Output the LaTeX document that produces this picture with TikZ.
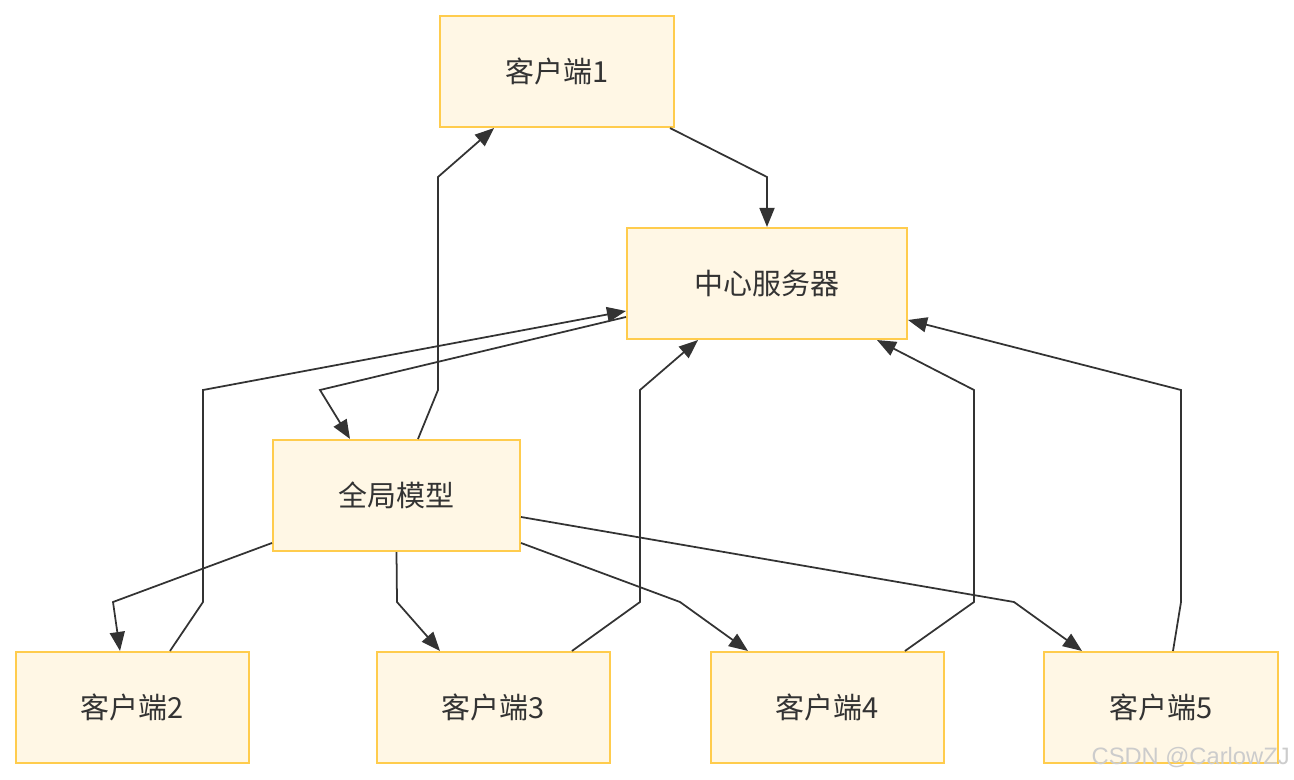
\documentclass[tikz,border=0pt]{standalone}
\usepackage{fontspec}
\setmainfont{Noto Sans CJK SC}
\newfontfamily\markfont{Liberation Sans}
\usetikzlibrary{arrows.meta}
\definecolor{boxfill}{HTML}{FFF7E5}
\definecolor{boxline}{HTML}{FFCC4D}
\definecolor{inkgray}{HTML}{333333}
\tikzset{
  box/.style={draw=boxline, fill=boxfill, line width=1.2pt, minimum height=2.22cm,
    inner sep=0pt, text=inkgray, font=\fontsize{16.5}{19}\selectfont},
  link/.style={draw=inkgray, line width=1pt, -{Triangle[length=3.8mm, width=3mm]}},
}
\begin{document}
\begin{tikzpicture}[x=0.02cm, y=-0.02cm]
    \useasboundingbox (0,0) rectangle (1294,780);

    % Les noeuds
    \node[box, minimum width=4.68cm] (c1) at (557,71.5) {客户端1};
    \node[box, minimum width=5.6cm] (srv) at (767,283.5) {中心服务器};
    \node[box, minimum width=4.94cm] (glob) at (396.5,495.5) {全局模型};
    \node[box, minimum width=4.66cm] (c2) at (132.5,707.5) {客户端2};
    \node[box, minimum width=4.66cm] (c3) at (493.5,707.5) {客户端3};
    \node[box, minimum width=4.66cm] (c4) at (827.5,707.5) {客户端4};
    \node[box, minimum width=4.68cm] (c5) at (1161,707.5) {客户端5};

    % Vers le serveur
    \draw[link] ([xshift=2.26cm]c1.south) -- (767,177) -- (srv.north);
    \draw[link] ([xshift=0.75cm]c2.north) -- (203,602) -- (203,390) -- ([yshift=-0.55cm]srv.west);
    \draw[link] ([xshift=1.57cm]c3.north) -- (640,602) -- (640,390) -- ([xshift=-1.38cm]srv.south);
    \draw[link] ([xshift=1.55cm]c4.north) -- (974,602) -- (974,390) -- ([xshift=2.2cm]srv.south);
    \draw[link] ([xshift=0.24cm]c5.north) -- (1181,602) -- (1181,390) -- ([yshift=-0.73cm]srv.east);

    % Depuis le modele global
    \draw[link] ([yshift=-0.67cm]srv.west) -- (320,390) -- ([xshift=-0.93cm]glob.north);
    \draw[link] ([xshift=0.43cm]glob.north) -- (438,390) -- (438,177) -- ([xshift=-1.26cm]c1.south);
    \draw[link] ([yshift=-0.95cm]glob.west) -- (113,602) -- ([xshift=-0.25cm]c2.north);
    \draw[link] (glob.south) -- (397,602) -- ([xshift=-1.07cm]c3.north);
    \draw[link] ([yshift=-0.95cm]glob.east) -- (680,602) -- ([xshift=-1.59cm]c4.north);
    \draw[link] ([yshift=-0.43cm]glob.east) -- (1014,602) -- ([xshift=-1.58cm]c5.north);

    \node[text=gray!40, anchor=east, inner sep=0pt, font=\markfont\fontsize{13.5}{15}\selectfont] (mark) at (1290,758) {CSDN @CarlowZJ};
\end{tikzpicture}
\end{document}
